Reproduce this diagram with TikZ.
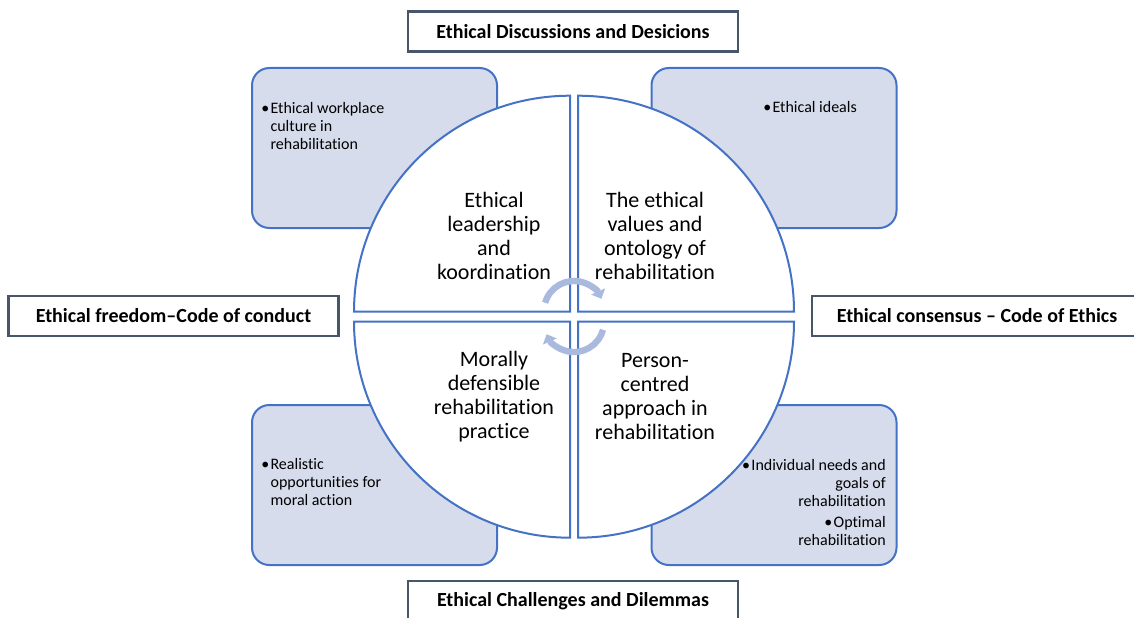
\documentclass[tikz,border=0pt]{standalone}
\usepackage{fontspec}
\setmainfont{Carlito}[Ligatures={TeX,NoCommon}]
\usetikzlibrary{arrows.meta}
\definecolor{quadblue}{RGB}{68,114,196}
\definecolor{cornerfill}{RGB}{214,220,236}
\definecolor{framegray}{RGB}{72,86,108}
\definecolor{cyclecol}{RGB}{170,186,222}
\newcommand{\blt}{\textbullet\hspace{1pt}}
\tikzset{
	cornerstyle/.style={rectangle,rounded corners=13pt,draw=quadblue,line width=1.5pt,fill=cornerfill,minimum width=183.75pt,minimum height=120pt},
	quadstyle/.style={draw=quadblue,line width=1.5pt,fill=white},
	quadtext/.style={align=center,font=\fontsize{16.5}{18}\selectfont},
	bullettext/.style={inner sep=0pt,font=\fontsize{12}{13.5}\selectfont},
	framestyle/.style={rectangle,draw=framegray,line width=1.8pt,fill=white,minimum width=247.5pt,minimum height=30pt,font=\fontsize{15}{17}\selectfont\bfseries},
	cyclestyle/.style={draw=cyclecol,line width=4.8pt,-{Triangle[width=11pt,length=6pt]}}
}
\begin{document}
\begin{tikzpicture}[x=0.75pt,y=-0.75pt]
		\useasboundingbox (0,0) rectangle (1134,617);
		\node[cornerstyle] (tlbox) at (374.5,148) {};
		\node[cornerstyle] (trbox) at (774,148) {};
		\node[cornerstyle] (blbox) at (374.5,485) {};
		\node[cornerstyle] (brbox) at (774,485) {};
		\draw[quadstyle] (570,311.7) -- ++(-216,0) arc[start angle=180,end angle=270,radius=216] -- cycle;
		\draw[quadstyle] (578,311.7) -- ++(216,0) arc[start angle=0,end angle=-90,radius=216] -- cycle;
		\draw[quadstyle] (570,321.7) -- ++(-216,0) arc[start angle=180,end angle=90,radius=216] -- cycle;
		\draw[quadstyle] (578,321.7) -- ++(216,0) arc[start angle=0,end angle=90,radius=216] -- cycle;
		\node[bullettext,anchor=north west] (tllist) at (261,101) {\begin{tabular}{@{}l@{\hspace{1pt}}l@{}}\textbullet&Ethical workplace\\&culture in\\&rehabilitation\end{tabular}};
		\node[bullettext,anchor=north west] (trlist) at (763,101) {\blt Ethical ideals};
		\node[bullettext,anchor=north west] (bllist) at (261,457) {\begin{tabular}{@{}l@{\hspace{1pt}}l@{}}\textbullet&Realistic\\&opportunities for\\&moral action\end{tabular}};
		\node[bullettext,anchor=north east] (brlist) at (886,458) {\begin{tabular}{@{}r@{}}\blt Individual needs and\\goals of\\rehabilitation\\[2pt]\blt Optimal\\rehabilitation\end{tabular}};
		\node[quadtext] (leadtxt) at (494,235.5) {Ethical\\leadership\\and\\koordination};
		\node[quadtext] (valuetxt) at (655,235.5) {The ethical\\values and\\ontology of\\rehabilitation};
		\node[quadtext] (practicetxt) at (494,396.5) {Morally\\defensible\\rehabilitation\\practice};
		\node[quadtext] (persontxt) at (655,396.5) {Person-\\centred\\approach in\\rehabilitation};
		\draw[cyclestyle] (574,311) ++(196:30) arc[start angle=196,end angle=336,radius=30];
		\draw[cyclestyle] (574,322) ++(15:30) arc[start angle=15,end angle=156,radius=30];
		\node[framestyle] (topframe) at (573,31.5) {Ethical Discussions and Desicions};
		\node[framestyle] (leftframe) at (173.5,316) {Ethical freedom–Code of conduct};
		\node[framestyle] (rightframe) at (977,316) {Ethical consensus – Code of Ethics};
		\node[framestyle] (bottomframe) at (573,601) {Ethical Challenges and Dilemmas};
\end{tikzpicture}
\end{document}
